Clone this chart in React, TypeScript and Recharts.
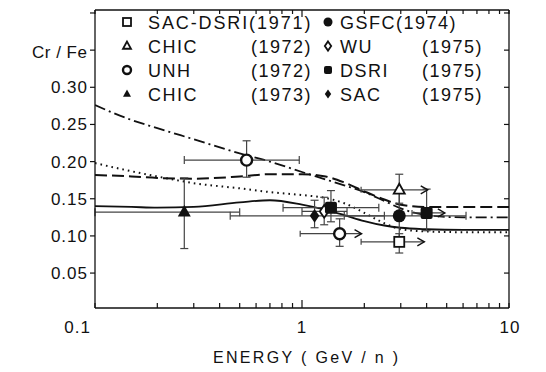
import React from "react";
import {
  ComposedChart,
  ErrorBar,
  Line,
  ReferenceLine,
  Scatter,
  XAxis,
  YAxis,
} from "recharts";

const FONT = '"Liberation Sans", Arial, Helvetica, sans-serif';
const INK = "#111";
const BAR = "#444";

// energy ticks (log axis) and ratio ticks
const xTicks = [0.1, 0.2, 0.3, 0.4, 0.5, 0.6, 0.7, 0.8, 0.9, 1, 2, 3, 4, 5, 6, 7, 8, 9, 10];
const xLabels = [0.1, 1, 10];
const yTicks = [0.05, 0.1, 0.15, 0.2, 0.25, 0.3, 0.35, 0.4];
const yLabels = [0.05, 0.1, 0.15, 0.2, 0.25, 0.3];

// model curves at these energies
const curveEnergy = [0.1, 0.15, 0.2, 0.3, 0.5, 0.7, 1, 1.3, 1.6, 2, 2.5, 3, 4, 6, 10];
const solidCurve = [0.14, 0.139, 0.138, 0.139, 0.145, 0.148, 0.142, 0.135, 0.128, 0.12, 0.114, 0.111, 0.109, 0.108, 0.108];
const dashedCurve = [0.182, 0.18, 0.178, 0.177, 0.18, 0.183, 0.183, 0.18, 0.172, 0.16, 0.149, 0.142, 0.139, 0.139, 0.139];
const dottedCurve = [0.198, 0.187, 0.18, 0.171, 0.164, 0.159, 0.155, 0.151, 0.144, 0.131, 0.117, 0.109, 0.106, 0.105, 0.105];
const dashDotCurve = [0.276, 0.256, 0.245, 0.23, 0.211, 0.2, 0.186, 0.176, 0.168, 0.159, 0.147, 0.137, 0.128, 0.125, 0.125];

type Pt = {
  x: number;
  y: number;
  yLo: number;
  yHi: number;
  xLo?: number;
  xHi?: number;
  arrow?: boolean;
};

// measurements
const sacDsri1971: Pt[] = [{ x: 2.95, y: 0.092, yLo: 0.077, yHi: 0.103, xLo: 1.93, xHi: 3.9, arrow: true }];
const chic1972: Pt[] = [{ x: 2.95, y: 0.162, yLo: 0.144, yHi: 0.183, xLo: 1.93, xHi: 4.05, arrow: true }];
const unh1972: Pt[] = [
  { x: 0.54, y: 0.202, yLo: 0.179, yHi: 0.228, xLo: 0.27, xHi: 0.97 },
  { x: 1.52, y: 0.103, yLo: 0.086, yHi: 0.123, xLo: 0.98, xHi: 1.94, arrow: true },
];
const chic1973: Pt[] = [{ x: 0.27, y: 0.132, yLo: 0.083, yHi: 0.178, xLo: 0.1, xHi: 0.5 }];
const gsfc1974: Pt[] = [{ x: 2.95, y: 0.127, yLo: 0.097, yHi: 0.16, xLo: 1.6, xHi: 6.2 }];
const wu1975: Pt[] = [{ x: 1.28, y: 0.133, yLo: 0.115, yHi: 0.152, xLo: 1.0, xHi: 1.65 }];
const dsri1975: Pt[] = [
  { x: 1.38, y: 0.138, yLo: 0.119, yHi: 0.161, xLo: 0.81, xHi: 2.35 },
  { x: 4.0, y: 0.131, yLo: 0.107, yHi: 0.163, xLo: 3.4, xHi: 4.9, arrow: true },
];
const sac1975: Pt[] = [{ x: 1.15, y: 0.127, yLo: 0.111, yHi: 0.148, xLo: 0.45, xHi: 2.5 }];

const curve = (ys: number[]) => curveEnergy.map((x, i) => ({ x, y: ys[i] }));

const withErr = (pts: Pt[]) =>
  pts.map((p) => ({
    x: p.x,
    y: p.y,
    ey: [p.y - p.yLo, p.yHi - p.y],
    ex: p.xLo != null && !p.arrow ? [p.x - p.xLo, (p.xHi as number) - p.x] : [0, 0],
  }));

const allPts = [sacDsri1971, chic1972, unh1972, chic1973, gsfc1974, wu1975, dsri1975, sac1975].flat();
const arrowPts = allPts.filter((p) => p.arrow);

type Kind = "oSq" | "oTri" | "oCir" | "fTri" | "fCir" | "oDia" | "fSq" | "fDia";

function Symbol({ kind, cx, cy, s }: { kind: Kind; cx: number; cy: number; s: number }) {
  const sw = 1.8;
  switch (kind) {
    case "oSq":
      return <rect x={cx - s / 2} y={cy - s / 2} width={s} height={s} fill="#fff" stroke={INK} strokeWidth={sw} />;
    case "fSq":
      return <rect x={cx - s / 2} y={cy - s / 2} width={s} height={s} rx={2} fill={INK} />;
    case "oTri":
    case "fTri": {
      const h = s * 0.9;
      const pts = `${cx},${cy - h * 0.62} ${cx - s / 2},${cy + h * 0.38} ${cx + s / 2},${cy + h * 0.38}`;
      return kind === "oTri" ? (
        <polygon points={pts} fill="#fff" stroke={INK} strokeWidth={sw} />
      ) : (
        <polygon points={pts} fill={INK} />
      );
    }
    case "oCir":
      return <circle cx={cx} cy={cy} r={s / 2} fill="#fff" stroke={INK} strokeWidth={2.4} />;
    case "fCir":
      return <circle cx={cx} cy={cy} r={s / 2} fill={INK} />;
    case "oDia":
    case "fDia": {
      const r = s / 2;
      const pts = `${cx},${cy - r * 1.15} ${cx + r * 0.8},${cy} ${cx},${cy + r * 1.15} ${cx - r * 0.8},${cy}`;
      return kind === "oDia" ? (
        <polygon points={pts} fill="#fff" stroke={INK} strokeWidth={sw} />
      ) : (
        <polygon points={pts} fill={INK} />
      );
    }
  }
  return null;
}

const markShape = (kind: Kind, s: number) => (props: any) =>
  <Symbol kind={kind} cx={props.cx} cy={props.cy} s={s} />;

const arrowHead = (props: any) => (
  <polyline
    points={`${props.cx - 7},${props.cy - 4} ${props.cx},${props.cy} ${props.cx - 7},${props.cy + 4}`}
    fill="none"
    stroke={INK}
    strokeWidth={1.4}
  />
);

const leftCap = (props: any) => (
  <line x1={props.cx} x2={props.cx} y1={props.cy - 3} y2={props.cy + 3} stroke={BAR} strokeWidth={1.2} />
);

function BottomTick({ x, y, payload }: any) {
  const v = payload.value;
  const major = xLabels.includes(v);
  const label = v === 0.1 ? "0.1" : String(v);
  return (
    <g>
      <line x1={x} x2={x} y1={y} y2={y - (v === 1 ? 8 : 5)} stroke={INK} strokeWidth={1.2} />
      {major && (
        <text
          x={v === 0.1 ? x - 4 : v === 10 ? x + 1 : x}
          y={y + 25}
          textAnchor={v === 0.1 ? "end" : "middle"}
          fontSize={17}
          fontFamily={FONT}
          letterSpacing={1}
          fill={INK}
        >
          {label}
        </text>
      )}
    </g>
  );
}

function TopTick({ x, y, payload }: any) {
  return <line x1={x} x2={x} y1={y} y2={y + (payload.value === 1 ? 7 : 4)} stroke={INK} strokeWidth={1.2} />;
}

function LeftTick({ x, y, payload }: any) {
  const v = payload.value;
  return (
    <g>
      <line x1={x} x2={x - 5} y1={y} y2={y} stroke={INK} strokeWidth={1.2} />
      {yLabels.includes(v) && (
        <text x={x - 7} y={y + 6} textAnchor="end" fontSize={17} fontFamily={FONT} letterSpacing={1} fill={INK}>
          {v.toFixed(2)}
        </text>
      )}
    </g>
  );
}

function RightTick({ x, y }: any) {
  return <line x1={x} x2={x - 5} y1={y} y2={y} stroke={INK} strokeWidth={1.2} />;
}

const legendLeft: { kind: Kind; name: string; year: string }[] = [
  { kind: "oSq", name: "SAC-DSRI", year: "(1971)" },
  { kind: "oTri", name: "CHIC", year: "(1972)" },
  { kind: "oCir", name: "UNH", year: "(1972)" },
  { kind: "fTri", name: "CHIC", year: "(1973)" },
];
const legendRight: { kind: Kind; name: string; year: string }[] = [
  { kind: "fCir", name: "GSFC", year: "(1974)" },
  { kind: "oDia", name: "WU", year: "(1975)" },
  { kind: "fSq", name: "DSRI", year: "(1975)" },
  { kind: "fDia", name: "SAC", year: "(1975)" },
];

function Overlay() {
  const rowY = [22, 46, 70, 94];
  const txt = { fontSize: 18, fontFamily: FONT, fill: INK, letterSpacing: 1.5 } as const;
  return (
    <svg width={546} height={372} style={{ position: "absolute", left: 0, top: 0, pointerEvents: "none" }}>
      {legendLeft.map((r, i) => (
        <g key={"l" + i}>
          <Symbol kind={r.kind} cx={127} cy={rowY[i]} s={8} />
          {i === 0 ? (
            <text x={148} y={rowY[i] + 7} {...txt} textLength={164} lengthAdjust="spacing">
              {r.name + r.year}
            </text>
          ) : (
            <>
              <text x={148} y={rowY[i] + 7} {...txt}>{r.name}</text>
              <text x={312} y={rowY[i] + 7} textAnchor="end" {...txt}>{r.year}</text>
            </>
          )}
        </g>
      ))}
      {legendRight.map((r, i) => (
        <g key={"r" + i}>
          <Symbol kind={r.kind} cx={328} cy={rowY[i]} s={r.kind === "fCir" ? 9 : 8} />
          {i === 0 ? (
            <text x={340} y={rowY[i] + 7} {...txt}>
              {r.name + r.year}
            </text>
          ) : (
            <>
              <text x={340} y={rowY[i] + 7} {...txt}>{r.name}</text>
              <text x={483} y={rowY[i] + 7} textAnchor="end" {...txt}>{r.year}</text>
            </>
          )}
        </g>
      ))}
      <text x={32} y={58} fontSize={17} fontFamily={FONT} fill={INK} letterSpacing={0.5}>
        Cr / Fe
      </text>
      <text x={213} y={363} fontSize={16} fontFamily={FONT} fill={INK} textLength={185} lengthAdjust="spacing">
        ENERGY ( GeV / n )
      </text>
    </svg>
  );
}

const lineCommon = {
  dataKey: "y",
  stroke: INK,
  strokeWidth: 1.8,
  dot: false,
  activeDot: false,
  isAnimationActive: false,
  type: "monotone" as const,
};

export default function App() {
  const series: { data: Pt[]; kind: Kind; s: number }[] = [
    { data: chic1973, kind: "fTri", s: 13 },
    { data: unh1972, kind: "oCir", s: 11 },
    { data: sac1975, kind: "fDia", s: 12 },
    { data: wu1975, kind: "oDia", s: 11 },
    { data: dsri1975, kind: "fSq", s: 12 },
    { data: gsfc1974, kind: "fCir", s: 13 },
    { data: chic1972, kind: "oTri", s: 11 },
    { data: sacDsri1971, kind: "oSq", s: 10 },
  ];

  return (
    <div style={{ position: "absolute", left: 0, top: 0, width: 546, height: 372, background: "#fff" }}>
      <ComposedChart width={546} height={372} margin={{ top: 5, right: 27, bottom: 24, left: 35 }}>
        <XAxis
          dataKey="x"
          type="number"
          scale="log"
          domain={[0.1, 10]}
          allowDataOverflow
          ticks={xTicks}
          interval={0}
          height={40}
          tickSize={0}
          tickMargin={0}
          tickLine={false}
          tick={<BottomTick />}
          axisLine={{ stroke: INK, strokeWidth: 1.3 }}
        />
        <XAxis
          xAxisId="top"
          orientation="top"
          dataKey="x"
          type="number"
          scale="log"
          domain={[0.1, 10]}
          allowDataOverflow
          ticks={xTicks}
          interval={0}
          height={5}
          tickSize={0}
          tickMargin={0}
          tickLine={false}
          tick={<TopTick />}
          axisLine={{ stroke: INK, strokeWidth: 1.3 }}
        />
        <YAxis
          type="number"
          domain={[0.003, 0.404]}
          allowDataOverflow
          ticks={yTicks}
          interval={0}
          width={60}
          tickSize={0}
          tickMargin={0}
          tickLine={false}
          tick={<LeftTick />}
          axisLine={{ stroke: INK, strokeWidth: 1.3 }}
        />
        <YAxis
          yAxisId="r"
          orientation="right"
          type="number"
          domain={[0.003, 0.404]}
          allowDataOverflow
          ticks={yTicks}
          interval={0}
          width={10}
          tickSize={0}
          tickMargin={0}
          tickLine={false}
          tick={<RightTick />}
          axisLine={{ stroke: INK, strokeWidth: 1.3 }}
        />

        <Line data={curve(solidCurve)} {...lineCommon} />
        <Line data={curve(dashedCurve)} {...lineCommon} strokeWidth={2} strokeDasharray="12 5" />
        <Line data={curve(dottedCurve)} {...lineCommon} strokeWidth={2} strokeDasharray="1.6 4" />
        <Line data={curve(dashDotCurve)} {...lineCommon} strokeDasharray="11 4 2 4" />

        {arrowPts.map((p, i) => (
          <ReferenceLine
            key={"shaft" + i}
            segment={[
              { x: p.xLo, y: p.y },
              { x: p.xHi, y: p.y },
            ]}
            stroke={BAR}
            strokeWidth={1.2}
            ifOverflow="visible"
          />
        ))}
        <Scatter
          data={arrowPts.map((p) => ({ x: p.xLo, y: p.y }))}
          dataKey="y"
          shape={leftCap}
          isAnimationActive={false}
        />
        <Scatter
          data={arrowPts.map((p) => ({ x: p.xHi, y: p.y }))}
          dataKey="y"
          shape={arrowHead}
          isAnimationActive={false}
        />

        {series.map((s, i) => (
          <Scatter
            key={"pts" + i}
            data={withErr(s.data)}
            dataKey="y"
            shape={markShape(s.kind, s.s)}
            isAnimationActive={false}
          >
            <ErrorBar dataKey="ey" direction="y" width={4} stroke={BAR} strokeWidth={1.2} isAnimationActive={false} />
            <ErrorBar dataKey="ex" direction="x" width={4} stroke={BAR} strokeWidth={1.2} isAnimationActive={false} />
          </Scatter>
        ))}
      </ComposedChart>
      <Overlay />
    </div>
  );
}
